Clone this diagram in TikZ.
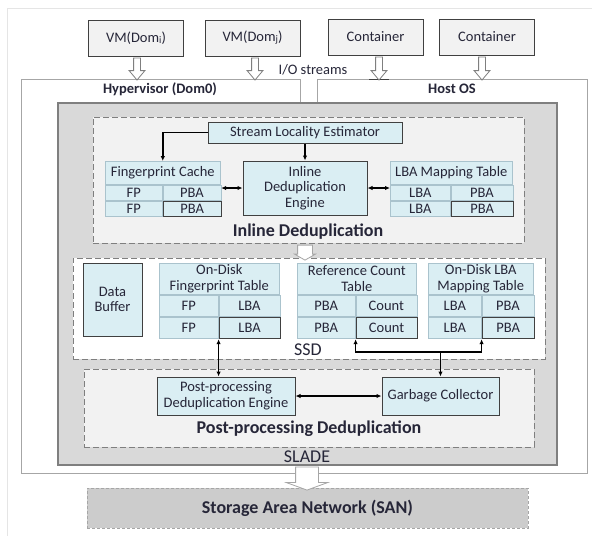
\documentclass[tikz,border=0pt]{standalone}
\usepackage{fontspec}
\setmainfont{Carlito}
\usetikzlibrary{arrows.meta,positioning,shapes.arrows}
\definecolor{texto}{RGB}{38,38,56}
\definecolor{azul}{RGB}{218,238,243}
\definecolor{borda}{RGB}{64,64,64}
\definecolor{cinza}{RGB}{217,217,217}
\definecolor{claro}{RGB}{242,242,242}
\definecolor{linha}{RGB}{166,166,166}
\definecolor{moldura}{RGB}{127,127,127}
\definecolor{celb}{RGB}{170,195,205}

\begin{document}
\begin{tikzpicture}[x=1pt,y=-1pt,>={Latex[length=5pt,width=4.5pt]},font=\fontsize{14.5}{15.5}\selectfont,text=texto]
  \tikzstyle{dom}=[draw=borda,fill=claro,line width=1pt,minimum width=95,minimum height=36,inner sep=0]
  \tikzstyle{bloco}=[draw=borda,fill=azul,line width=1pt,align=center,inner sep=0]
  \tikzstyle{cel}=[draw=celb,fill=azul,line width=0.6pt,inner sep=0,anchor=north west]
  \tikzstyle{celx}=[cel,draw=borda,line width=1pt]
  \tikzstyle{area}=[draw=moldura,fill=claro,dash pattern=on 6pt off 3pt,line width=1pt,inner sep=0]
  \tikzstyle{oca}=[single arrow,draw=moldura,fill=white,line width=0.8pt,inner xsep=0,minimum width=0,rotate=-90]
  \tikzstyle{seta}=[line width=1.6pt]
  \tikzstyle{negrito}=[font=\fontsize{14.5}{15.5}\selectfont\bfseries]
  \tikzstyle{titulo}=[font=\fontsize{18}{18}\selectfont\bfseries]
  \tikzstyle{rotulo}=[font=\fontsize{18}{18}\selectfont]

  \useasboundingbox (0,0) rectangle (592,536);
  \draw[black!10] (7,536) -- (7,8) -- (592,8);

  % guests
  \node[dom] (vmi) at (136,38) {VM(Dom\raisebox{-1pt}{\fontsize{10}{10}\selectfont i})};
  \node[dom] (vmj) at (252.5,38) {VM(Dom\raisebox{-1pt}{\fontsize{10}{10}\selectfont j})};
  \node[dom] (ct1) at (375.5,37) {Container};
  \node[dom] (ct2) at (487,37) {Container};
  \node (io) at (313,70) {I/O streams};

  % hypervisor / host os
  \draw[linha,line width=0.8pt,fill=white] (300,103) -- (300,79) -- (21,79) -- (21,473) -- (587,473) -- (587,79) -- (317,79) -- (317,103);
  \draw[borda,line width=1pt] (369,79) -- (389,79);
  \node[negrito] (hyp) at (160,89) {Hypervisor (Dom0)};
  \node[negrito] (host) at (452,89) {Host OS};

  \node[oca,minimum height=22,inner ysep=3,single arrow head extend=4.5,single arrow tip angle=80] (s1) at (137,67) {};
  \node[oca,minimum height=22,inner ysep=3,single arrow head extend=4.5,single arrow tip angle=80] (s2) at (255,67) {};
  \node[oca,minimum height=23,inner ysep=3,single arrow head extend=4.5,single arrow tip angle=80] (s3) at (379,66.5) {};
  \node[oca,minimum height=23,inner ysep=3,single arrow head extend=4.5,single arrow tip angle=80] (s4) at (482,66.5) {};

  % SLADE
  \node[draw=moldura,fill=cinza,line width=1.6pt,minimum width=499,minimum height=362,inner sep=0] (slade) at (307.5,284) {};
  \node[rotulo] (lsl) at (307,457) {SLADE};

  % inline deduplication
  \node[area,minimum width=431,minimum height=126] (inl) at (308.5,180) {};
  \node[bloco,minimum width=194,minimum height=21] (sle) at (305,132.5) {Stream Locality Estimator};
  \node[bloco,minimum width=124,minimum height=54] (eng) at (305,188) {Inline\\Deduplication\\Engine};
  \node[cel,minimum width=115,minimum height=23] (fch) at (105,161) {Fingerprint Cache};
  \node[cel,minimum width=57,minimum height=15.5] (fc11) at (fch.south west) {FP};
  \node[cel,minimum width=58,minimum height=15.5] (fc12) at (fc11.north east) {PBA};
  \node[cel,minimum width=57,minimum height=15.5] (fc21) at (fc11.south west) {FP};
  \node[celx,minimum width=58,minimum height=15.5] (fc22) at (fc11.south east) {PBA};
  \node[cel,minimum width=122,minimum height=23] (lbh) at (390,161) {LBA Mapping Table};
  \node[cel,minimum width=60,minimum height=15.5] (lb11) at (lbh.south west) {LBA};
  \node[cel,minimum width=62,minimum height=15.5] (lb12) at (lb11.north east) {PBA};
  \node[cel,minimum width=60,minimum height=15.5] (lb21) at (lb11.south west) {LBA};
  \node[celx,minimum width=62,minimum height=15.5] (lb22) at (lb11.south east) {PBA};
  \node[titulo] (linl) at (308,232) {Inline Deduplication};
  \draw[seta,->] (sle.west) -| (fch.north);
  \draw[seta,->] (sle.south) -- (eng.north);
  \draw[seta,<->] (eng.west -| fc12.east) -- (eng.west);
  \draw[seta,<->] (eng.east) -- (eng.east -| lb11.west);

  % SSD
  \node[area,fill=white,minimum width=472,minimum height=101] (ssd) at (309,308.5) {};
  \node[bloco,minimum width=59,minimum height=73] (buf) at (112.5,299.5) {Data\\Buffer};
  \node[cel,align=center,minimum width=120,minimum height=31] (odh) at (159,263) {On-Disk\\Fingerprint Table};
  \node[cel,minimum width=59,minimum height=21.5] (od11) at (odh.south west) {FP};
  \node[cel,minimum width=61,minimum height=21.5] (od12) at (od11.north east) {LBA};
  \node[cel,minimum width=59,minimum height=21.5] (od21) at (od11.south west) {FP};
  \node[celx,minimum width=61,minimum height=21.5] (od22) at (od11.south east) {LBA};
  \node[cel,align=center,minimum width=119,minimum height=31] (rch) at (297,263) {Reference Count\\Table};
  \node[cel,minimum width=58,minimum height=21.5] (rc11) at (rch.south west) {PBA};
  \node[cel,minimum width=61,minimum height=21.5] (rc12) at (rc11.north east) {Count};
  \node[cel,minimum width=58,minimum height=21.5] (rc21) at (rc11.south west) {PBA};
  \node[celx,minimum width=61,minimum height=21.5] (rc22) at (rc11.south east) {Count};
  \node[cel,align=center,minimum width=105,minimum height=31] (olh) at (428,263) {On-Disk LBA\\Mapping Table};
  \node[cel,minimum width=53,minimum height=21.5] (ol11) at (olh.south west) {LBA};
  \node[cel,minimum width=52,minimum height=21.5] (ol12) at (ol11.north east) {PBA};
  \node[cel,minimum width=53,minimum height=21.5] (ol21) at (ol11.south west) {LBA};
  \node[celx,minimum width=52,minimum height=21.5] (ol22) at (ol11.south east) {PBA};
  \node[rotulo] (lssd) at (308,350) {SSD};

  % post-processing deduplication
  \node[area,minimum width=450,minimum height=78] (pp) at (309,408) {};
  \node[bloco,minimum width=138,minimum height=38] (ppe) at (226,396) {Post-processing\\Deduplication Engine};
  \node[bloco,minimum width=117,minimum height=38] (gc) at (440.5,396) {Garbage Collector};
  \node[titulo] (lpp) at (309,429) {Post-processing Deduplication};
  \draw[seta,<->] (ppe.east) -- (gc.west);
  \draw[seta,<->] (od22.south west) -- (od22.south west |- ppe.north);
  \coordinate (jy) at (0,352);
  \coordinate (jun) at (gc.north |- jy);
  \draw[seta,->] (jun) -- (gc.north);
  \draw[seta,->] (jun) -| (rc22.south west);
  \draw[seta,->] (jun) -| (ol22.south west);

  \node[oca,draw=linha,minimum height=15,inner ysep=7,single arrow head extend=3,single arrow tip angle=120] (s5) at (305,250.5) {};

  % SAN
  \node[area,fill=black!20,draw=linha,dash pattern=on 3pt off 2pt,minimum width=441,minimum height=40,titulo] (san) at (307.5,508) {Storage Area Network (SAN)};
  \node[oca,draw=linha,minimum height=23,inner ysep=11,single arrow head extend=9.5,single arrow tip angle=140] (s6) at (307,476.5) {};
\end{tikzpicture}
\end{document}
